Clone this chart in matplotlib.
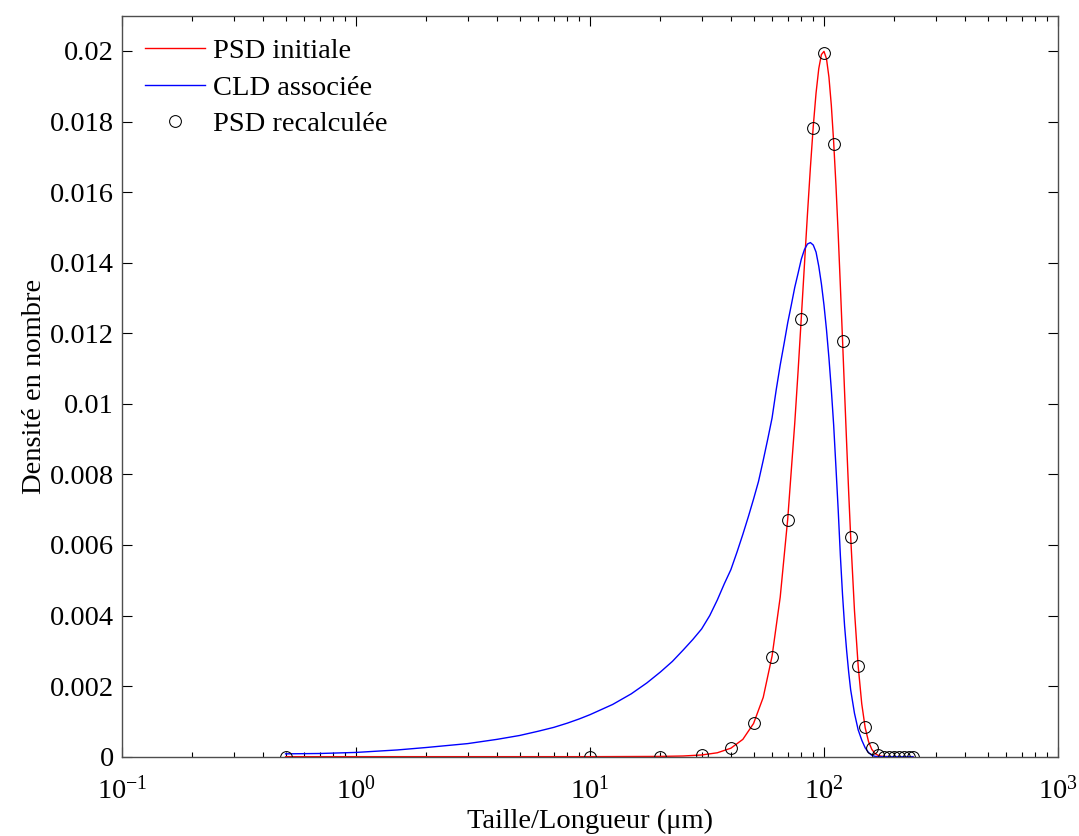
import matplotlib
matplotlib.use("Agg")
import matplotlib.pyplot as plt
from matplotlib.ticker import LogLocator, NullFormatter

plt.rcParams['font.family'] = ['Liberation Serif', 'DejaVu Serif']
plt.rcParams['mathtext.fontset'] = 'custom'
plt.rcParams['mathtext.rm'] = 'Liberation Serif'
plt.rcParams['mathtext.it'] = 'Liberation Serif:italic'

# PSD initiale (red line)
psd_x = [0.5, 10, 20, 25, 30, 35, 40, 45, 50, 55, 60, 65, 70, 75, 77.5, 80, 82.5, 85,
         87.5, 90, 92.5, 95, 97.5, 100, 102.5, 105, 107.5, 110, 112.5, 115, 117.5, 120,
         122.5, 125, 127.5, 130, 135, 140, 145, 150, 155, 160, 165, 170, 175, 180, 190,
         200, 210, 220, 230, 240]
psd_y = [0.0, 0.0, 0.000007, 0.000019, 0.000048, 0.00011, 0.00024, 0.00049, 0.00094,
         0.00168, 0.00285, 0.00452, 0.00674, 0.00945, 0.01092, 0.01244, 0.01394, 0.01538,
         0.0167, 0.01787, 0.01881, 0.0195, 0.0199, 0.01999, 0.01978, 0.01926, 0.01846,
         0.01742, 0.0162, 0.01482, 0.01334, 0.01183, 0.01032, 0.00887, 0.0075, 0.00625,
         0.00414, 0.00257, 0.0015, 0.00082, 0.00043, 0.00021, 0.000094, 0.00004,
         0.000016, 0.000006, 0.000001, 0.0, 0.0, 0.0, 0.0, 0.0]

# CLD associee (blue line)
cld_x = [0.5, 0.7, 1, 1.5, 2, 3, 4, 5, 6, 7, 8, 9, 10, 12.5, 15, 17.5, 20, 22.5, 25,
         27.5, 30, 32.5, 35, 37.5, 40, 42.5, 45, 47.5, 50, 52.5, 55, 57.5, 60, 62.5, 65,
         67.5, 70, 72.5, 75, 77.5, 80, 82.5, 85, 87.5, 90, 92.5, 95, 97.5, 100, 102.5,
         105, 107.5, 110, 112.5, 115, 117.5, 120, 122.5, 125, 127.5, 130, 135, 140, 145,
         150, 155, 160, 165, 170, 200, 240]
cld_y = [0.00008, 0.00009, 0.00012, 0.00019, 0.00026, 0.00037, 0.00049, 0.0006,
         0.00072, 0.00083, 0.00095, 0.00107, 0.00119, 0.00148, 0.00178, 0.00209, 0.0024,
         0.0027, 0.00302, 0.00332, 0.00362, 0.004, 0.00444, 0.0049, 0.0053, 0.0058,
         0.0063, 0.0068, 0.0073, 0.0078, 0.0084, 0.009, 0.0096, 0.0104, 0.0111, 0.0117,
         0.0123, 0.0128, 0.0133, 0.0137, 0.0141, 0.01437, 0.01453, 0.01457, 0.0145,
         0.0143, 0.0139, 0.0134, 0.0128, 0.0121, 0.0113, 0.0104, 0.0094, 0.0082, 0.007,
         0.0057, 0.0046, 0.0037, 0.003, 0.0024, 0.0019, 0.00123, 0.00076, 0.00047,
         0.00025, 0.00012, 0.00004, 0.00001, 0.0, 0.0, 0.0]

# PSD recalculee (circles)
rec_x = [0.5, 10, 20, 30, 40, 50, 60, 70, 80, 90, 100, 110, 120, 130, 140, 150, 160,
         170, 180, 190, 200, 210, 220, 230, 240]
rec_y = [0.0, 0.0, 0.0, 0.00005, 0.00025, 0.00095, 0.00283, 0.0067, 0.0124, 0.01781,
         0.01993, 0.01737, 0.01178, 0.00622, 0.00257, 0.00084, 0.00025, 0.00004,
         0.0, 0.0, 0.0, 0.0, 0.0, 0.0, 0.0]

yticks = [0, 0.002, 0.004, 0.006, 0.008, 0.01, 0.012, 0.014, 0.016, 0.018, 0.02]
ytick_labels = ['0', '0.002', '0.004', '0.006', '0.008', '0.01', '0.012', '0.014',
                '0.016', '0.018', '0.02']

fs = 20.5
axcol = '#4d4d4d'

fig = plt.figure(figsize=(10.79, 8.36), dpi=100)
ax = fig.add_axes([0.1131, 0.0949, 0.8674, 0.8863])

ax.plot(psd_x, psd_y, color='red', lw=1.0, label='PSD initiale')
ax.plot(cld_x, cld_y, color='blue', lw=1.0, label='CLD associée')
ax.plot(rec_x, rec_y, 'o', mfc='none', mec='black', ms=8.5, mew=0.75, label='PSD recalculée')

ax.set_xscale('log')
ax.set_xlim(0.1, 1000)
ax.set_ylim(0, 0.021)
ax.xaxis.set_major_locator(LogLocator(base=10, numticks=10))
ax.xaxis.set_minor_locator(LogLocator(base=10, subs=range(2, 10), numticks=20))
ax.xaxis.set_minor_formatter(NullFormatter())
ax.set_yticks(yticks)
ax.set_yticklabels(ytick_labels)

ax.tick_params(which='both', direction='in', top=True, right=True, colors='black',
               labelsize=fs, width=0.8)
ax.tick_params(which='major', length=7)
ax.tick_params(which='minor', length=3.5)
ax.tick_params(axis='y', pad=6)
ax.tick_params(axis='x', pad=14)
for sp in ax.spines.values():
    sp.set_color(axcol)
    sp.set_linewidth(1.0)

ax.set_xlabel('Taille/Longueur (μm)', fontsize=fs, labelpad=3)
ax.set_ylabel('Densité en nombre', fontsize=fs, labelpad=2)

ax.legend(loc='upper left', frameon=False, fontsize=fs, handlelength=2.1,
          handletextpad=0.3, labelspacing=0.36, borderaxespad=0.4,
          bbox_to_anchor=(0.0, 1.0))

fig.savefig('out.png', dpi=100)
